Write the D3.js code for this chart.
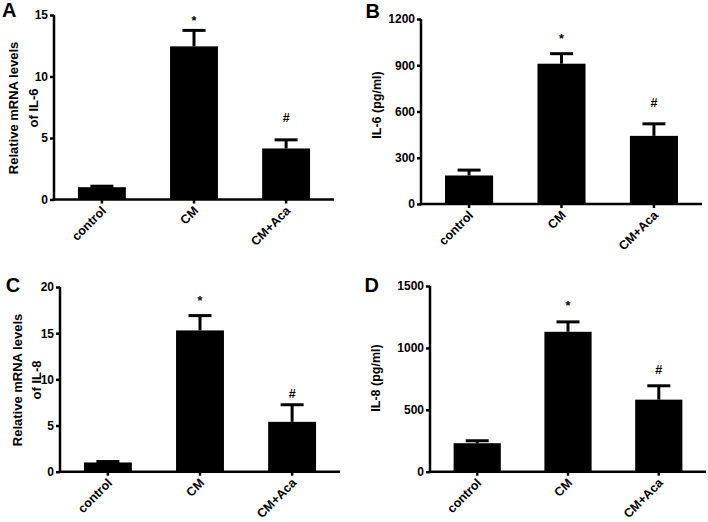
<!DOCTYPE html>
<html>
<head>
<meta charset="utf-8">
<script src="https://cdn.jsdelivr.net/npm/d3@7"></script>
<style>
  html, body { margin: 0; padding: 0; background: #fff; }
  svg { display: block; }
  text { font-family: "Liberation Sans", Arial, sans-serif; font-weight: bold; fill: #000; }
</style>
</head>
<body>
<script>
// ---- data ----
const categories = ["control", "CM", "CM+Aca"];
const marks = ["", "*", "#"];

const il6mRNA = [1.0, 12.45, 4.15];
const il6mRNAErr = [0.08, 1.3, 0.7];
const il6mRNAMarkY = [null, 14.2, 6.3];
const il6mRNATicks = [0, 5, 10, 15];

const il6Protein = [185, 910, 442];
const il6ProteinErr = [35, 65, 78];
const il6ProteinMarkY = [null, 1045, 630];
const il6ProteinTicks = [0, 300, 600, 900, 1200];

const il8mRNA = [1.0, 15.3, 5.4];
const il8mRNAErr = [0.1, 1.6, 1.85];
const il8mRNAMarkY = [null, 18.1, 8.0];
const il8mRNATicks = [0, 5, 10, 15, 20];

const il8Protein = [230, 1130, 582];
const il8ProteinErr = [20, 80, 112];
const il8ProteinMarkY = [null, 1303, 792];
const il8ProteinTicks = [0, 500, 1000, 1500];

// ---- layout ----
const W = 708, H = 522;
const svg = d3.select("body").append("svg").attr("width", W).attr("height", H);

const panels = [
  { letter: "A", lx: 2, ly: 16.5, values: il6mRNA, err: il6mRNAErr, markY: il6mRNAMarkY, ticks: il6mRNATicks,
    x0: 54, x1: 334, yTop: 15, yBot: 199.5, title: ["Relative mRNA levels", "of IL-6"], tx: [17.5, 38], ty: 108, tfs: 13 },
  { letter: "B", lx: 365.5, ly: 18, values: il6Protein, err: il6ProteinErr, markY: il6ProteinMarkY, ticks: il6ProteinTicks,
    x0: 421, x1: 702, yTop: 19, yBot: 204, title: ["IL-6 (pg/ml)"], tx: [381], ty: 105, tfs: 12.5 },
  { letter: "C", lx: 5.8, ly: 292, values: il8mRNA, err: il8mRNAErr, markY: il8mRNAMarkY, ticks: il8mRNATicks,
    x0: 60, x1: 340, yTop: 287, yBot: 471.7, title: ["Relative mRNA levels", "of IL-8"], tx: [21.7, 40.7], ty: 380, tfs: 13 },
  { letter: "D", lx: 364.5, ly: 292, values: il8Protein, err: il8ProteinErr, markY: il8ProteinMarkY, ticks: il8ProteinTicks,
    x0: 430, x1: 706, yTop: 286, yBot: 471.7, title: ["IL-8 (pg/ml)"], tx: [379.5], ty: 378, tfs: 12.5 }
];

panels.forEach(p => {
  const g = svg.append("g");
  const x = d3.scaleBand().domain(categories).range([p.x0, p.x1]).paddingInner(0.48).paddingOuter(0.26);
  const yMax = p.ticks[p.ticks.length - 1];
  const y = d3.scaleLinear().domain([0, yMax]).range([p.yBot, p.yTop]);

  // bars
  g.selectAll("rect.bar").data(categories).join("rect")
    .attr("x", d => x(d))
    .attr("width", x.bandwidth())
    .attr("y", (d, i) => y(p.values[i]))
    .attr("height", (d, i) => y(0) - y(p.values[i]))
    .attr("fill", "#000");

  // error bars (upper only)
  const capW = 23;
  categories.forEach((c, i) => {
    const cx = x(c) + x.bandwidth() / 2;
    const top = y(p.values[i] + p.err[i]);
    g.append("line").attr("x1", cx).attr("x2", cx).attr("y1", y(p.values[i])).attr("y2", top)
      .attr("stroke", "#000").attr("stroke-width", 3);
    g.append("line").attr("x1", cx - capW / 2).attr("x2", cx + capW / 2).attr("y1", top).attr("y2", top)
      .attr("stroke", "#000").attr("stroke-width", 3);
    if (marks[i]) {
      g.append("text").attr("x", cx).attr("y", y(p.markY[i]))
        .attr("text-anchor", "middle").attr("font-size", 12.5)
        .text(marks[i]);
    }
  });

  // y axis
  const ya = g.append("g").attr("transform", `translate(${p.x0},0)`)
    .call(d3.axisLeft(y).tickValues(p.ticks).tickFormat(d3.format("d")).tickSize(4).tickSizeOuter(0).tickPadding(2));
  ya.select(".domain").attr("stroke-width", 2.5).attr("d", `M0,${p.yTop}V${p.yBot + 1.25}`);
  ya.selectAll(".tick line").attr("stroke-width", 2.5);
  ya.selectAll(".tick text").attr("font-size", 12).attr("font-family", "Liberation Sans, Arial, sans-serif").attr("font-weight", "bold");

  // x axis (ticks only; labels drawn rotated below)
  const xa = g.append("g").attr("transform", `translate(0,${p.yBot})`)
    .call(d3.axisBottom(x).tickSize(4).tickSizeOuter(0).tickFormat(""));
  xa.select(".domain").attr("stroke-width", 2.5).attr("d", `M${p.x0 - 1.25},0H${p.x1}`);
  xa.selectAll(".tick line").attr("stroke-width", 2.5);

  g.selectAll("text.xlab").data(categories).join("text")
    .attr("class", "xlab")
    .attr("text-anchor", "end")
    .attr("font-size", 12.5)
    .attr("transform", d => `translate(${x(d) + x.bandwidth() / 2 + 5},${p.yBot + 12}) rotate(-45)`)
    .text(d => d);

  // y title
  p.title.forEach((t, k) => {
    g.append("text")
      .attr("transform", `translate(${p.tx[k]},${p.ty}) rotate(-90)`)
      .attr("text-anchor", "middle").attr("font-size", p.tfs).text(t);
  });

  // panel letter
  g.append("text").attr("x", p.lx).attr("y", p.ly).attr("font-size", 20).text(p.letter);
});
</script>
</body>
</html>
